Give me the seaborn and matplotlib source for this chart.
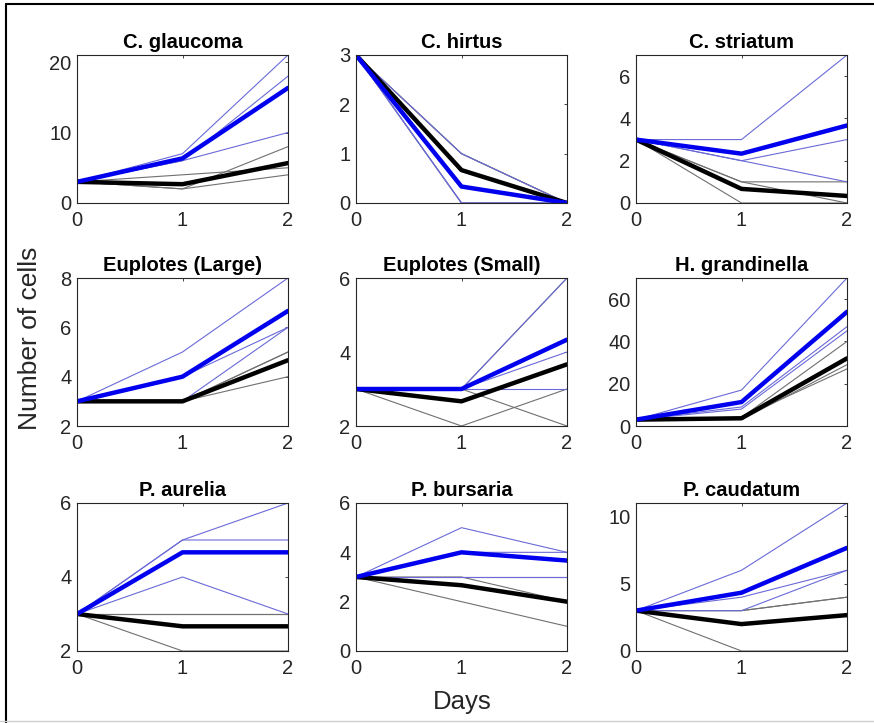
import seaborn as sns
import pandas as pd
import matplotlib.pyplot as plt
from matplotlib.lines import Line2D

days = [0, 1, 2]

species = ["C. glaucoma", "C. hirtus", "C. striatum",
           "Euplotes (Large)", "Euplotes (Small)", "H. grandinella",
           "P. aurelia", "P. bursaria", "P. caudatum"]

# replicate trajectories, blue treatment
glaucoma_blue = [[3, 7, 21], [3, 6, 18], [3, 6, 10]]
hirtus_blue = [[3, 1, 0], [3, 0, 0], [3, 0, 0]]
striatum_blue = [[3, 3, 7], [3, 2, 3], [3, 2, 1]]
eup_large_blue = [[3, 5, 8], [3, 4, 6], [3, 3, 6]]
eup_small_blue = [[3, 3, 6], [3, 3, 4], [3, 3, 3]]
grandinella_blue = [[3, 17, 70], [3, 9, 47], [3, 8, 45]]
aurelia_blue = [[3, 5, 6], [3, 5, 5], [3, 4, 3]]
bursaria_blue = [[3, 5, 4], [3, 4, 4], [3, 3, 3]]
caudatum_blue = [[3, 6, 11], [3, 4, 6], [3, 3, 6]]

# replicate trajectories, black treatment
glaucoma_black = [[3, 4, 5], [3, 2, 8], [3, 2, 4]]
hirtus_black = [[3, 1, 0], [3, 1, 0], [3, 0, 0]]
striatum_black = [[3, 1, 1], [3, 1, 0], [3, 0, 0]]
eup_large_black = [[3, 3, 5], [3, 3, 5], [3, 3, 4]]
eup_small_black = [[3, 2, 3], [3, 3, 2], [3, 3, 6]]
grandinella_black = [[3, 4, 40], [3, 3, 29], [3, 4, 27]]
aurelia_black = [[3, 3, 3], [3, 3, 3], [3, 2, 2]]
bursaria_black = [[3, 3, 2], [3, 3, 3], [3, 2, 1]]
caudatum_black = [[3, 3, 4], [3, 3, 4], [3, 0, 0]]

blue_sets = [glaucoma_blue, hirtus_blue, striatum_blue, eup_large_blue, eup_small_blue,
             grandinella_blue, aurelia_blue, bursaria_blue, caudatum_blue]
black_sets = [glaucoma_black, hirtus_black, striatum_black, eup_large_black, eup_small_black,
              grandinella_black, aurelia_black, bursaria_black, caudatum_black]

ylims = [(0, 21), (0, 3), (0, 7), (2, 8), (2, 6), (0, 70), (2, 6), (0, 6), (0, 11)]
yticks = [[0, 10, 20], [0, 1, 2, 3], [0, 2, 4, 6], [2, 4, 6, 8], [2, 4, 6],
          [0, 20, 40, 60], [2, 4, 6], [0, 2, 4, 6], [0, 5, 10]]

rows = []
for sp, bl, bk in zip(species, blue_sets, black_sets):
    for grp, reps in (("blue", bl), ("black", bk)):
        for r, vals in enumerate(reps):
            for d, v in zip(days, vals):
                rows.append({"species": sp, "group": grp, "rep": r, "day": d, "cells": v})
df = pd.DataFrame(rows)

sns.set_style("white")
plt.rcParams["font.family"] = ["Liberation Sans", "DejaVu Sans"]

fig = plt.figure(figsize=(8.74, 7.23), dpi=100)
lefts = [77, 356, 636]
tops = [55, 278, 503]
W, H = 874, 723
ink = "#262626"

for i, sp in enumerate(species):
    r, c = divmod(i, 3)
    ax = fig.add_axes([lefts[c] / W, 1 - (tops[r] + 148) / H, 211 / W, 148 / H])
    sub = df[df["species"] == sp]
    sns.lineplot(data=sub[sub["group"] == "black"], x="day", y="cells", units="rep",
                 estimator=None, color="#707070", lw=0.8, ax=ax)
    sns.lineplot(data=sub[sub["group"] == "blue"], x="day", y="cells", units="rep",
                 estimator=None, color="#6a6ad8", lw=0.8, ax=ax)
    sns.lineplot(data=sub[sub["group"] == "black"], x="day", y="cells", errorbar=None,
                 color="black", lw=3.2, ax=ax)
    sns.lineplot(data=sub[sub["group"] == "blue"], x="day", y="cells", errorbar=None,
                 color="#0000ee", lw=3.2, ax=ax)
    ax.set_xlim(0, 2)
    ax.set_ylim(*ylims[i])
    ax.set_xticks(days)
    ax.set_yticks(yticks[i])
    ax.set_xlabel("")
    ax.set_ylabel("")
    ax.set_title(sp, fontsize=14.5, fontweight="bold", color="black", pad=5)
    ax.tick_params(direction="in", length=2.5, width=0.6, top=True, right=True,
                   labelsize=14.5, colors=ink, pad=4)
    ax.tick_params(axis="x", pad=6)
    for s in ax.spines.values():
        s.set_color(ink)
        s.set_linewidth(0.8)

fig.text(30 / W, 1 - 338 / H, "Number of cells", rotation=90, ha="center", va="center",
         fontsize=19, color=ink)
fig.text(462 / W, 1 - 702 / H, "Days", ha="center", va="center", fontsize=18.5, color=ink)

# outer frame
fig.add_artist(Line2D([6 / W, 6 / W], [0, 1 - 4 / H], color="black", lw=1.5))
fig.add_artist(Line2D([6 / W, 1], [1 - 4 / H, 1 - 4 / H], color="black", lw=1.5))
fig.add_artist(Line2D([0, 1], [2 / H, 2 / H], color="#d0d0d0", lw=1))

plt.savefig("out.png", dpi=100)
